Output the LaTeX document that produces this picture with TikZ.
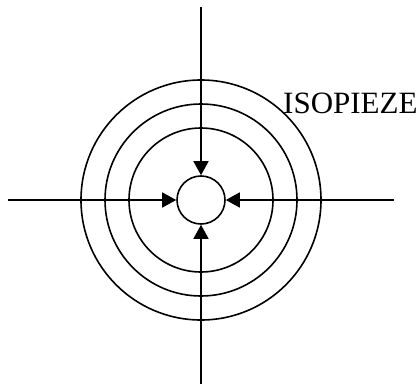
\documentclass[tikz,border=0pt]{standalone}
\usepackage{fontspec}
\setmainfont{Liberation Serif}
\usetikzlibrary{positioning, arrows.meta}

\begin{document}
\begin{tikzpicture}[
    x=1pt, y=-1pt,
    every node/.style={inner sep=0pt},
    isopieze/.style={draw, circle, line width=1.6pt},
    flow/.style={draw, line width=1.6pt, -{Triangle[length=14pt, width=15pt]}}
]
\useasboundingbox (0,0) rectangle (419,385);
\node[isopieze, minimum size=48pt] (well) at (201,200) {};
\node[isopieze, minimum size=144pt] (iso1) at (well.center) {};
\node[isopieze, minimum size=192pt] (iso2) at (well.center) {};
\node[isopieze, minimum size=240pt] (iso3) at (well.center) {};
\coordinate (top) at (201,7);
\coordinate (bottom) at (201,384);
\coordinate (left) at (8,200);
\coordinate (right) at (394,200);
\draw[flow] (top) -- (well);
\draw[flow] (bottom) -- (well);
\draw[flow] (left) -- (well);
\draw[flow] (right) -- (well);
\node[font=\fontsize{31}{31}\selectfont, anchor=base west] (label) at (283,113) {ISOPIEZE};
\end{tikzpicture}
\end{document}
